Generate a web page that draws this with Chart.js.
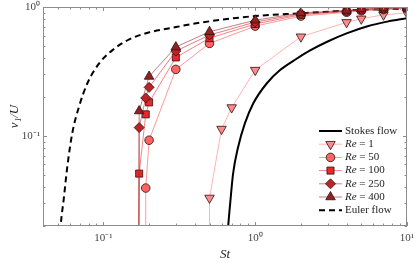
<!DOCTYPE html>
<html>
<head>
<meta charset="utf-8">
<script src="https://cdn.jsdelivr.net/npm/chart.js@4"></script>
<style>
  html, body { margin: 0; padding: 0; background: #fff; }
  #wrap { width: 415px; height: 263px; }
</style>
</head>
<body>
<div id="wrap"><canvas id="myChart" width="415" height="263"></canvas></div>
<script>
// data (x = St, y = v1/U)
const stRe1 = [0.5, 0.5, 0.6, 0.7, 1, 2, 4, 5, 7, 10];
const vRe1 = [0.01, 0.033, 0.113, 0.166, 0.324, 0.588, 0.76, 0.81, 0.87, 0.90];

const stRe50 = [0.19, 0.19, 0.2, 0.3, 0.5, 1, 2, 4, 5, 7, 10];
const vRe50 = [0.01, 0.0394, 0.0926, 0.328, 0.522, 0.711, 0.85, 0.91, 0.935, 0.955, 0.97];

const stRe100 = [0.171, 0.172, 0.19, 0.2, 0.3, 0.5, 1, 2, 4, 5, 7, 10];
const vRe100 = [0.01, 0.051, 0.147, 0.182, 0.406, 0.574, 0.738, 0.87, 0.925, 0.945, 0.965, 0.98];

const stRe250 = [0.171, 0.172, 0.19, 0.2, 0.3, 0.5, 1, 2, 4, 5, 7, 10];
const vRe250 = [0.01, 0.116, 0.197, 0.238, 0.455, 0.606, 0.764, 0.885, 0.93, 0.955, 0.975, 0.99];

const stRe400 = [0.171, 0.172, 0.2, 0.3, 0.5, 1, 2, 4, 5, 7, 10];
const vRe400 = [0.01, 0.156, 0.289, 0.489, 0.643, 0.79, 0.90, 0.94, 0.965, 0.98, 0.995];

const stStokes = [0.655, 0.663, 0.687, 0.715, 0.772, 0.855, 0.97, 1.19, 1.458, 1.83, 2.3, 3.0, 4.0, 5.5, 7.4, 10];
const vStokes = [0.016, 0.0196, 0.0316, 0.051, 0.0821, 0.125, 0.1785, 0.255, 0.324, 0.39, 0.46, 0.54, 0.625, 0.71, 0.77, 0.818];

const stEuler = [0.0515, 0.0522, 0.0549, 0.0578, 0.0623, 0.069, 0.0783, 0.0937, 0.1148, 0.148, 0.201, 0.272, 0.432, 1, 2, 3.3, 5, 10];
const vEuler = [0.015, 0.0196, 0.033, 0.0574, 0.1044, 0.168, 0.255, 0.365, 0.463, 0.561, 0.636, 0.683, 0.755, 0.851, 0.893, 0.925, 0.948, 0.97];

const xTicks = [0.1, 1, 10];
const yTicks = [0.1, 1];
const supers = { '-1': '\u207B\u00B9', '0': '\u2070', '1': '\u00B9' };

function pts(xs, ys) {
  return xs.map(function (x, i) { return { x: x, y: ys[i] }; });
}

function reSet(label, xs, ys, fill, line, style, r, rot) {
  return {
    label: label,
    data: pts(xs, ys),
    borderColor: line,
    borderWidth: 1,
    backgroundColor: fill,
    pointBackgroundColor: fill,
    pointBorderColor: '#2a1010',
    pointBorderWidth: 0.8,
    pointStyle: style,
    pointRotation: rot,
    pointRadius: function (ctx) {
      const p = ctx.raw;
      return p && p.y < 0.02 ? 0 : r;
    },
    showLine: true
  };
}

const datasets = [
  reSet('Re = 400', stRe400, vRe400, 'rgb(150,32,32)', 'rgba(150,40,40,0.6)', 'triangle', 5.5, 0),
  reSet('Re = 250', stRe250, vRe250, 'rgb(192,34,40)', 'rgba(200,40,50,0.6)', 'rectRot', 5, 0),
  reSet('Re = 100', stRe100, vRe100, 'rgb(235,40,40)', 'rgba(240,50,50,0.6)', 'rect', 5, 0),
  reSet('Re = 50', stRe50, vRe50, 'rgb(255,100,100)', 'rgba(255,110,110,0.7)', 'circle', 4.3, 0),
  reSet('Re = 1', stRe1, vRe1, 'rgb(255,140,140)', 'rgba(255,160,160,0.8)', 'triangle', 5.5, 180),
  {
    label: 'Stokes flow',
    data: pts(stStokes, vStokes),
    borderColor: '#000',
    borderWidth: 2,
    pointRadius: 0,
    showLine: true,
    cubicInterpolationMode: 'monotone'
  },
  {
    label: 'Euler flow',
    data: pts(stEuler, vEuler),
    borderColor: '#000',
    borderWidth: 2,
    borderDash: [6, 4],
    pointRadius: 0,
    showLine: true,
    cubicInterpolationMode: 'monotone'
  }
];

// legend entries in the figure order
const legendRows = [
  { name: 'Stokes flow', kind: 'solid' },
  { re: '1', ds: 4 },
  { re: '50', ds: 3 },
  { re: '100', ds: 2 },
  { re: '250', ds: 1 },
  { re: '400', ds: 0 },
  { name: 'Euler flow', kind: 'dash' }
];

const frameTicks = {
  id: 'frameTicks',
  afterDraw: function (chart) {
    const c = chart.ctx, a = chart.chartArea;
    const xs = chart.scales.x, ys = chart.scales.y;
    c.save();
    c.strokeStyle = '#8c8c8c';
    c.lineWidth = 1;
    c.strokeRect(a.left + 0.5, a.top + 0.5, a.right - a.left - 1, a.bottom - a.top - 1);
    c.beginPath();
    for (let e = -2; e <= 1; e++) {
      for (let m = 1; m < 10; m++) {
        const v = m * Math.pow(10, e);
        if (v >= xs.min && v <= xs.max) {
          const px = Math.round(xs.getPixelForValue(v)) + 0.5;
          const len = m === 1 ? 4 : 2.5;
          c.moveTo(px, a.bottom); c.lineTo(px, a.bottom - len);
          c.moveTo(px, a.top); c.lineTo(px, a.top + len);
        }
        if (v >= ys.min && v <= ys.max) {
          const py = Math.round(ys.getPixelForValue(v)) + 0.5;
          const len = m === 1 ? 4 : 2.5;
          c.moveTo(a.left, py); c.lineTo(a.left + len, py);
          c.moveTo(a.right, py); c.lineTo(a.right - len, py);
        }
      }
    }
    c.stroke();

    // legend
    const x0 = 319, x1 = 342, tx = 345;
    let y = 131;
    c.textBaseline = 'middle';
    legendRows.forEach(function (row) {
      if (row.kind) {
        c.strokeStyle = '#000';
        c.lineWidth = 2;
        c.setLineDash(row.kind === 'dash' ? [6, 4] : []);
        c.beginPath(); c.moveTo(x0, y); c.lineTo(x1, y); c.stroke();
        c.setLineDash([]);
        c.fillStyle = '#222';
        c.font = '11px "Liberation Serif"';
        c.fillText(row.name, tx, y);
      } else {
        const d = chart.data.datasets[row.ds];
        c.strokeStyle = d.borderColor;
        c.lineWidth = 1;
        c.beginPath(); c.moveTo(x0, y); c.lineTo(x1, y); c.stroke();
        c.fillStyle = d.pointBackgroundColor;
        c.strokeStyle = d.pointBorderColor;
        c.lineWidth = d.pointBorderWidth;
        const r = d.pointStyle === 'circle' ? 4.3 : (d.pointStyle === 'triangle' ? 5.5 : 5);
        Chart.helpers.drawPoint(c, { pointStyle: d.pointStyle, rotation: d.pointRotation, radius: r, borderWidth: d.pointBorderWidth }, (x0 + x1) / 2, y);
        c.fillStyle = '#222';
        c.font = 'italic 11px "Liberation Serif"';
        c.fillText('Re', tx, y);
        const w = c.measureText('Re').width;
        c.font = '11px "Liberation Serif"';
        c.fillText(' = ' + row.re, tx + w, y);
      }
      y += 13.2;
    });
    c.restore();
  }
};

const config = {
  type: 'scatter',
  data: { datasets: datasets },
  options: {
    responsive: false,
    animation: false,
    events: [],
    layout: { padding: { top: 7, right: 8, left: 0, bottom: 0 } },
    plugins: { legend: { display: false }, tooltip: { enabled: false } },
    scales: {
      x: {
        type: 'logarithmic',
        min: 0.04,
        max: 10,
        grid: { display: false, drawTicks: false },
        border: { display: false },
        afterBuildTicks: function (s) { s.ticks = xTicks.map(function (v) { return { value: v }; }); },
        afterFit: function (s) { s.height = 37; s.paddingLeft = 0; s.paddingRight = 0; },
        ticks: {
          padding: 6,
          color: '#444',
          font: { family: 'Liberation Serif', size: 11 },
          callback: function (v) { return '10' + supers[String(Math.round(Math.log10(v)))]; }
        },
        title: {
          display: true,
          text: 'St',
          color: '#222',
          font: { family: 'Liberation Serif', size: 13, style: 'italic' },
          padding: { top: 0, bottom: 1 }
        }
      },
      y: {
        type: 'logarithmic',
        min: 0.02,
        max: 1,
        grid: { display: false, drawTicks: false },
        border: { display: false },
        afterBuildTicks: function (s) { s.ticks = yTicks.map(function (v) { return { value: v }; }); },
        afterFit: function (s) { s.width = 43; s.paddingTop = 0; s.paddingBottom = 0; },
        ticks: {
          padding: 3,
          color: '#444',
          font: { family: 'Liberation Serif', size: 11 },
          callback: function (v) { return '10' + supers[String(Math.round(Math.log10(v)))]; }
        },
        title: {
          display: true,
          text: 'v\u2081/U',
          color: '#222',
          font: { family: 'Liberation Serif', size: 13, style: 'italic' },
          padding: { top: 7, bottom: 0 }
        }
      }
    }
  },
  plugins: [frameTicks]
};

var myChart = new Chart(document.getElementById('myChart'), config);
</script>
</body>
</html>
